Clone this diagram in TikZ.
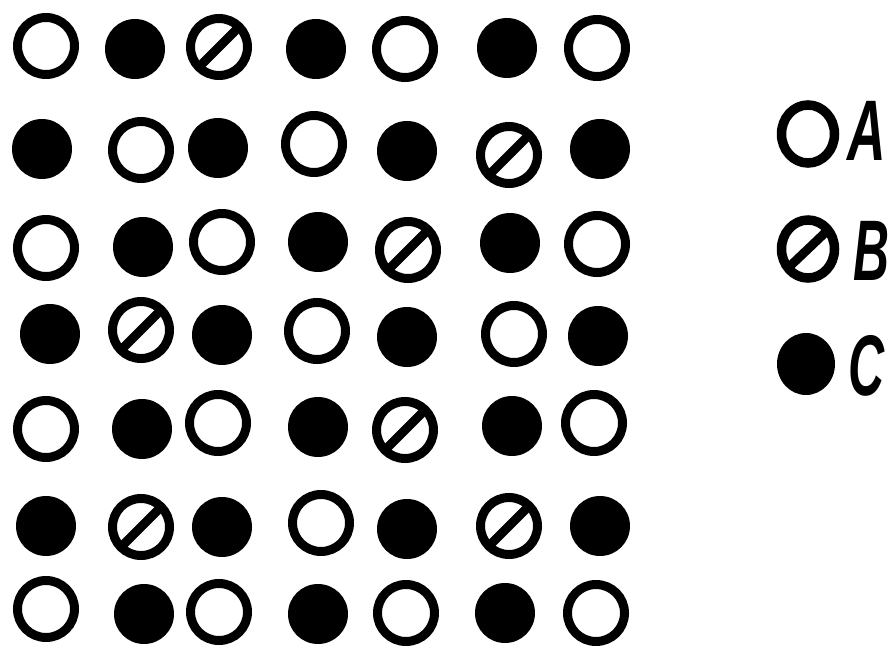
\documentclass[tikz,border=0pt]{standalone}
\usepackage{fontspec}
\setmainfont{Liberation Sans}
\usetikzlibrary{shapes.geometric}
\tikzset{
  opendot/.style={circle, draw=black, line width=4.5pt, minimum size=28.5pt, inner sep=0pt},
  fulldot/.style={circle, fill=black, minimum size=30pt, inner sep=0pt},
  hatchdot/.style={opendot, path picture={\draw[line width=4.5pt] (path picture bounding box.south west) -- (path picture bounding box.north east);}},
  legopen/.style={ellipse, draw=black, line width=4.75pt, minimum width=26.5pt, minimum height=29pt, inner sep=0pt},
  leghatch/.style={legopen, path picture={\draw[line width=4.5pt] ([xshift=-2pt]path picture bounding box.south west) -- ([xshift=2pt]path picture bounding box.north east);}},
  legfull/.style={ellipse, fill=black, minimum width=29pt, minimum height=31pt, inner sep=0pt},
  leglabel/.style={inner sep=0pt, font=\fontsize{43}{43}\selectfont\bfseries\itshape}
}
\begin{document}
\begin{tikzpicture}[x=0.5pt, y=-0.5pt]
\useasboundingbox (0,0) rectangle (894,647);
% row 1
\node[opendot]  (r1c1) at (46,46) {};
\node[fulldot]  (r1c2) at (135,49) {};
\node[hatchdot] (r1c3) at (219,47) {};
\node[fulldot]  (r1c4) at (316,49) {};
\node[opendot]  (r1c5) at (405,49) {};
\node[fulldot]  (r1c6) at (507,48) {};
\node[opendot]  (r1c7) at (597,48) {};
% row 2
\node[fulldot]  (r2c1) at (42,149) {};
\node[opendot]  (r2c2) at (141,150) {};
\node[fulldot]  (r2c3) at (218,148) {};
\node[opendot]  (r2c4) at (314,144) {};
\node[fulldot]  (r2c5) at (407,151) {};
\node[hatchdot] (r2c6) at (509,155) {};
\node[fulldot]  (r2c7) at (600,149) {};
% row 3
\node[opendot]  (r3c1) at (46,248) {};
\node[fulldot]  (r3c2) at (143,247) {};
\node[opendot]  (r3c3) at (222,242) {};
\node[fulldot]  (r3c4) at (318,242) {};
\node[hatchdot] (r3c5) at (408,250) {};
\node[fulldot]  (r3c6) at (510,243) {};
\node[opendot]  (r3c7) at (597,244) {};
% row 4
\node[fulldot]  (r4c1) at (50,334) {};
\node[hatchdot] (r4c2) at (141,330) {};
\node[fulldot]  (r4c3) at (222,335) {};
\node[opendot]  (r4c4) at (317,331) {};
\node[fulldot]  (r4c5) at (407,337) {};
\node[opendot]  (r4c6) at (514,334) {};
\node[fulldot]  (r4c7) at (598,336) {};
% row 5
\node[opendot]  (r5c1) at (46,429) {};
\node[fulldot]  (r5c2) at (142,429) {};
\node[opendot]  (r5c3) at (218,423) {};
\node[fulldot]  (r5c4) at (318,427) {};
\node[hatchdot] (r5c5) at (405,430) {};
\node[fulldot]  (r5c6) at (512,426) {};
\node[opendot]  (r5c7) at (594,423) {};
% row 6
\node[fulldot]  (r6c1) at (46,526) {};
\node[hatchdot] (r6c2) at (141,527) {};
\node[fulldot]  (r6c3) at (222,527) {};
\node[opendot]  (r6c4) at (321,523) {};
\node[fulldot]  (r6c5) at (407,529) {};
\node[hatchdot] (r6c6) at (509,526) {};
\node[fulldot]  (r6c7) at (600,526) {};
% row 7
\node[opendot]  (r7c1) at (46,609) {};
\node[fulldot]  (r7c2) at (144,614) {};
\node[opendot]  (r7c3) at (219,612) {};
\node[fulldot]  (r7c4) at (318,614) {};
\node[opendot]  (r7c5) at (406,613) {};
\node[fulldot]  (r7c6) at (505,613) {};
\node[opendot]  (r7c7) at (596,613) {};
% legend
\node[legopen]  (legA) at (808,134) {};
\node[leghatch] (legB) at (808,249) {};
\node[legfull]  (legC) at (806,364) {};
\node[leglabel] (labA) at (867,131) {\scalebox{0.62}[1]{A}};
\node[leglabel] (labB) at (871,251) {\scalebox{0.58}[1]{B}};
\node[leglabel] (labC) at (866,366) {\scalebox{0.58}[1]{C}};
\end{tikzpicture}
\end{document}
